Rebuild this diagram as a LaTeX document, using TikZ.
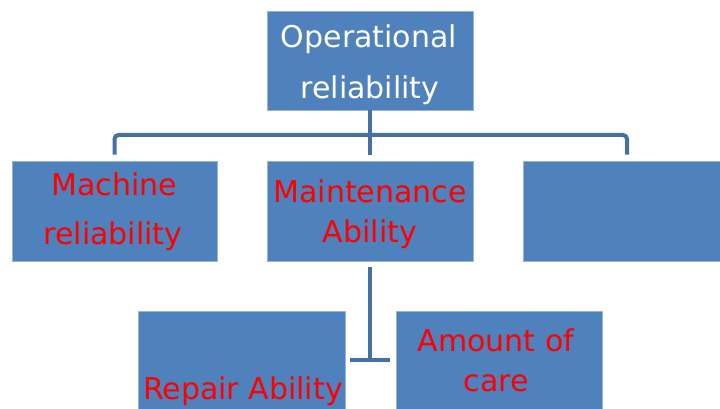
\documentclass[tikz,border=0pt]{standalone}
\usepackage{fontspec}
\setmainfont{DejaVu Sans}
\usetikzlibrary{calc}
\definecolor{boxblue}{RGB}{79,129,189}
\definecolor{boxedge}{RGB}{150,180,215}
\definecolor{linkblue}{RGB}{68,112,165}
\definecolor{txtred}{RGB}{255,0,0}
\begin{document}
\begin{tikzpicture}[x=1pt,y=-1pt,
  box/.style={rectangle,fill=boxblue,draw=boxedge,line width=0.8pt,inner sep=0pt},
  link/.style={draw=linkblue,line width=4pt},
  lbl/.style={anchor=base,inner sep=0pt,font=\fontsize{30}{32}\selectfont},
  redlbl/.style={lbl,text=txtred},
  whitelbl/.style={lbl,text=white}]
\useasboundingbox[fill=white] (0,0) rectangle (720,409);
% boxes
\node[box,minimum width=206pt,minimum height=99pt] (top) at (370,60.5) {};
\node[box,minimum width=205pt,minimum height=100pt] (b1) at (114.5,211) {};
\node[box,minimum width=206pt,minimum height=100pt] (b2) at (370,211) {};
\node[box,minimum width=206pt,minimum height=100pt] (b3) at (626,211) {};
\node[box,minimum width=207pt,minimum height=104pt] (b4) at (241.5,363) {};
\node[box,minimum width=206pt,minimum height=104pt] (b5) at (499,363) {};
% connectors
\coordinate (hub) at (370,135);
\coordinate (tee) at (370,360);
\coordinate (teeL) at (350,360);
\coordinate (teeR) at (390,360);
\draw[link] (top.south) -- (hub);
\draw[link,rounded corners=4pt] ($(b1.north)+(0,-6)$) |- (hub) -| ($(b3.north)+(1,-6)$);
\draw[link] (hub) -- ($(b2.north)+(0,-6)$);
\draw[link] ($(b2.south)+(0,6)$) -- (tee);
\draw[link] (teeL) -- (teeR);
% texts
\node[whitelbl] (t1) at (369,48) {Operational};
\node[whitelbl] (t2) at (370,99) {reliability};
\node[redlbl] (t3) at (114.5,195) {Machine};
\node[redlbl] (t4) at (113,244) {reliability};
\node[redlbl] (t5) at (370,202) {Maintenance};
\node[redlbl] (t6) at (370,242) {Ability};
\node[redlbl] (t7) at (243,399) {Repair Ability};
\node[redlbl] (t8) at (496,351) {Amount of};
\node[redlbl] (t9) at (496,391) {care};
\end{tikzpicture}
\end{document}
